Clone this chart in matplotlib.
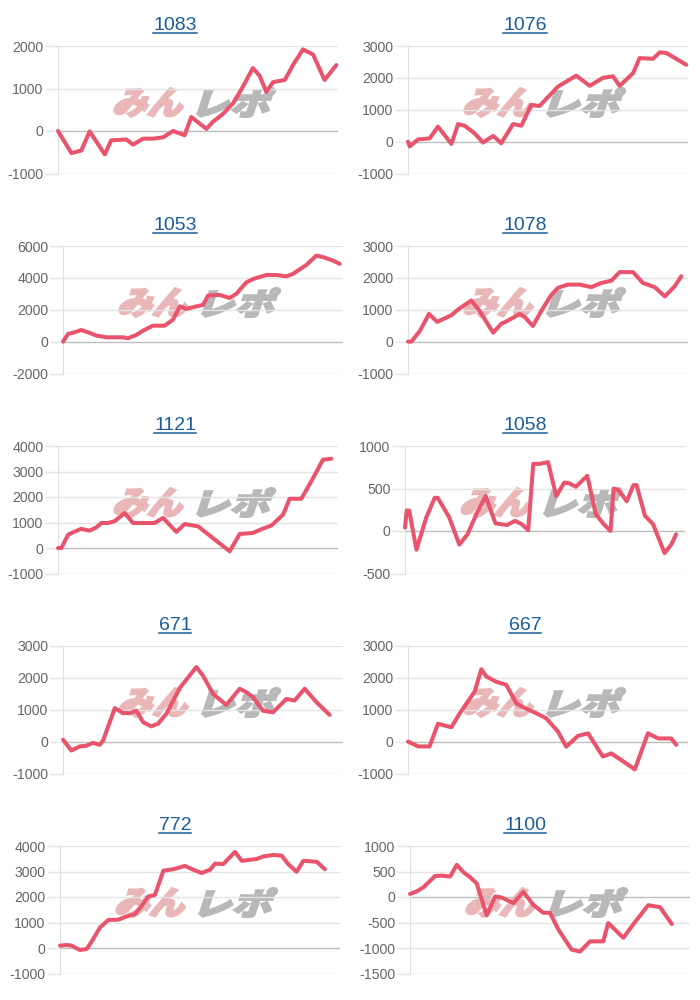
import matplotlib
matplotlib.use('Agg')
import matplotlib.pyplot as plt
from matplotlib.textpath import TextPath
from matplotlib.patches import PathPatch
from matplotlib.font_manager import FontProperties
from matplotlib.transforms import Affine2D, IdentityTransform
from matplotlib.lines import Line2D

plt.rcParams['font.family'] = ['Liberation Sans', 'DejaVu Sans']

titles = ['1083', '1076', '1053', '1078', '1121', '1058', '671', '667', '772', '1100']

# x = position in the period (0-100), y = balance
x_1083 = [0, 4.8, 8.3, 11.3, 16.7, 19.0, 24.4, 26.8, 30.4, 33.9, 37.5, 41.1, 45.2, 47.6, 53.0,
          55.4, 58.9, 62.5, 66.1, 69.6, 72.0, 74.4, 76.8, 81.0, 83.9, 87.5, 91.1, 95.2, 97.0, 99.4]
y_1083 = [0, -520, -460, -10, -550, -220, -200, -320, -180, -180, -150, 0, -100, 330, 50,
          220, 400, 650, 1050, 1480, 1300, 920, 1150, 1200, 1550, 1920, 1800, 1200, 1350, 1550]

x_1076 = [0, 0.6, 3.6, 7.7, 10.7, 15.5, 17.9, 20.2, 23.8, 26.8, 30.4, 33.3, 37.5, 40.5,
          44.0, 47.0, 53.6, 60.1, 64.9, 69.6, 73.2, 75.6, 80.4, 82.7, 87.5, 89.9, 92.3, 99.4]
y_1076 = [0, -150, 70, 100, 470, -70, 550, 500, 260, -30, 180, -50, 550, 500,
          1150, 1120, 1730, 2070, 1750, 2000, 2050, 1750, 2150, 2620, 2600, 2800, 2780, 2410]

x_1053 = [0, 1.8, 4.2, 6.5, 8.9, 11.9, 15.5, 21.4, 23.2, 26.2, 28.6, 32.1, 36.3, 39.3, 41.7, 44.0, 47.6,
          50.0, 51.8, 56.0, 59.5, 61.9, 65.5, 67.9, 72.6, 76.2, 79.8, 82.1, 86.9, 90.5, 92.9, 96.4, 98.8]
y_1053 = [0, 480, 590, 730, 590, 380, 270, 270, 210, 420, 690, 1000, 1000, 1380, 2210, 2050, 2210,
          2300, 2890, 2930, 2740, 3000, 3720, 3930, 4180, 4180, 4100, 4250, 4810, 5400, 5300, 5090, 4880]

x_1078 = [0, 1.2, 4.2, 7.5, 10.4, 13.1, 15.5, 17.9, 22.6, 25.6, 30.4, 33.3, 35.7, 39.9, 41.7, 44.6,
          47.6, 51.2, 53.6, 57.1, 61.3, 65.5, 69.0, 72.6, 75.6, 80.4, 83.9, 88.1, 91.7, 95.2, 97.6]
y_1078 = [0, 0, 330, 870, 620, 730, 830, 1010, 1290, 960, 280, 560, 660, 870, 770, 490,
          960, 1470, 1690, 1790, 1790, 1710, 1840, 1910, 2180, 2180, 1840, 1710, 1420, 1730, 2050]

x_1121 = [0, 1.2, 3.6, 6.0, 8.3, 11.3, 13.7, 15.5, 17.9, 20.2, 23.8, 26.8, 34.5, 37.5,
          42.3, 45.2, 50.0, 61.3, 64.9, 69.6, 73.2, 76.2, 80.4, 82.7, 86.9, 91.1, 94.6, 97.6]
y_1121 = [0, 0, 520, 650, 750, 680, 810, 980, 980, 1050, 1370, 980, 980, 1180,
          630, 940, 850, -130, 550, 590, 760, 880, 1310, 1930, 1930, 2740, 3460, 3500]

x_1058 = [0, 0.6, 1.5, 4.1, 7.6, 10.6, 11.7, 15.8, 19.4, 22.3, 25.8, 28.8, 32.3, 36.4, 39.3, 41.7, 44.0, 45.8, 48.1,
          51.1, 54.0, 56.9, 58.7, 61.0, 65.1, 68.1, 71.0, 73.4, 74.5, 76.3, 79.2, 81.6, 82.7, 85.7, 88.6, 92.7, 95.1, 96.8]
y_1058 = [40, 240, 240, -220, 160, 390, 390, 160, -160, -40, 220, 410, 90, 70, 120, 80, 10, 790, 790,
          810, 410, 570, 560, 520, 650, 200, 80, 0, 500, 480, 350, 540, 540, 180, 80, -260, -160, -40]

x_671 = [0, 3.0, 6.0, 8.3, 10.7, 13.1, 14.3, 18.5, 21.4, 23.8, 26.2, 28.6, 31.5, 33.9, 36.9,
         41.7, 47.6, 50.0, 53.6, 58.3, 63.1, 65.5, 67.9, 71.4, 75.0, 79.8, 82.7, 86.3, 90.5, 95.2]
y_671 = [60, -280, -150, -130, -40, -100, 30, 1050, 900, 890, 970, 610, 480, 560, 870,
         1680, 2340, 2070, 1500, 1150, 1660, 1550, 1390, 970, 920, 1340, 1290, 1660, 1240, 840]

x_667 = [0, 3.6, 7.7, 10.7, 15.5, 18.5, 23.8, 26.2, 28.0, 31.5, 35.1, 38.7, 41.1, 45.8,
         49.4, 53.6, 56.5, 60.7, 64.3, 69.6, 72.6, 76.2, 81.0, 85.7, 89.3, 94.0, 95.8]
y_667 = [0, -150, -150, 560, 450, 890, 1570, 2270, 2040, 1880, 1780, 1200, 1080, 890,
         730, 310, -160, 180, 260, -470, -370, -580, -870, 260, 100, 100, -100]

x_772 = [0, 2.4, 4.2, 7.1, 9.5, 11.3, 14.3, 17.3, 20.8, 23.8, 26.8, 29.2, 31.5, 33.9, 36.9, 40.5, 44.6,
         47.6, 50.6, 53.6, 55.4, 58.3, 62.5, 64.9, 70.2, 72.6, 76.2, 79.2, 81.5, 84.5, 86.9, 91.7, 94.6]
y_772 = [90, 120, 90, -80, -40, 250, 810, 1100, 1110, 1240, 1330, 1660, 2020, 2080, 3030, 3090, 3220,
         3070, 2940, 3070, 3310, 3290, 3770, 3420, 3490, 3590, 3650, 3620, 3290, 2990, 3420, 3380, 3090]

x_1100 = [0, 2.4, 4.8, 8.9, 11.3, 14.3, 16.7, 19.0, 21.4, 23.8, 27.4, 30.4, 32.7, 36.9, 40.5,
          44.0, 47.6, 50.0, 53.0, 57.7, 60.7, 64.3, 69.0, 70.8, 73.2, 76.2, 79.8, 85.1, 89.3, 93.5]
y_1100 = [60, 110, 190, 410, 420, 400, 630, 490, 390, 270, -360, 10, -10, -120, 100,
          -150, -310, -310, -640, -1030, -1070, -870, -870, -510, -640, -800, -530, -160, -200, -530]

yticks_list = [
    [-1000, 0, 1000, 2000],
    [-1000, 0, 1000, 2000, 3000],
    [-2000, 0, 2000, 4000, 6000],
    [-1000, 0, 1000, 2000, 3000],
    [-1000, 0, 1000, 2000, 3000, 4000],
    [-500, 0, 500, 1000],
    [-1000, 0, 1000, 2000, 3000],
    [-1000, 0, 1000, 2000, 3000],
    [-1000, 0, 1000, 2000, 3000, 4000],
    [-1500, -1000, -500, 0, 500, 1000],
]

xs = [x_1083, x_1076, x_1053, x_1078, x_1121, x_1058, x_671, x_667, x_772, x_1100]
ys = [y_1083, y_1076, y_1053, y_1078, y_1121, y_1058, y_671, y_667, y_772, y_1100]

W, H = 700, 1000
fig = plt.figure(figsize=(7, 10), dpi=100)

# plot area left edge in pixels (depends on tick label width)
ax_left = [58, 408, 63, 408, 58, 405, 63, 408, 60, 410]
ax_w, ax_h = 280, 127.5

line_color = '#e9536b'
grid_color = '#e4e4e4'
wm_font = FontProperties(family='Noto Sans CJK JP', weight='heavy')


def watermark(ax, text, bx, by, w, h, color):
    tp = TextPath((0, 0), text, size=40, prop=wm_font)
    ext = tp.get_extents()
    slant = 0.32
    sx = (w - h * slant) / ext.width
    sy = h / ext.height
    tr = (Affine2D().translate(-ext.x0, -ext.y0).scale(sx, sy)
          .skew(slant, 0).translate(bx, by))
    p = PathPatch(tr.transform_path(tp), facecolor=color, edgecolor=color, lw=1.5,
                  joinstyle='miter', transform=IdentityTransform(), zorder=0.5)
    ax.add_artist(p)


titles_txt = []
for i in range(10):
    row, col = i // 2, i % 2
    L = ax_left[i]
    T = 46 + 200 * row
    ax = fig.add_axes([L / W, 1 - (T + ax_h) / H, ax_w / W, ax_h / H])
    ax.set_facecolor('none')
    ticks = yticks_list[i]
    ax.set_ylim(ticks[0], ticks[-1])
    ax.set_xlim(0, 100)
    ax.set_yticks(ticks)
    ax.set_yticklabels([str(t) for t in ticks])
    ax.set_xticks([])
    for s in ['top', 'right', 'bottom']:
        ax.spines[s].set_visible(False)
    ax.spines['left'].set_color('#e0e0e0')
    ax.tick_params(axis='y', length=9.5, width=1, color=grid_color, pad=1,
                   labelsize=10.2, labelcolor='#666666')
    for t in ticks:
        c = '#bdbdbd' if t == 0 else grid_color
        ax.axhline(t, color=c, lw=1, zorder=1)

    watermark(ax, 'みん', L + 54, H - (T + 71), 77, 29, '#eab7b8')
    watermark(ax, 'レポ', L + 138, H - (T + 71), 80, 29, '#b8b8b8')

    ax.plot(xs[i], ys[i], color=line_color, lw=2.9, solid_joinstyle='round',
            solid_capstyle='round', zorder=3, clip_on=False)

    cx = 175 + 350 * col
    t = fig.text(cx / W, 1 - (29.5 + 200 * row) / H, titles[i], ha='center', va='baseline',
                 fontsize=14, color='#1c5d99')
    titles_txt.append((t, row))

r = fig.canvas.get_renderer()
for t, row in titles_txt:
    bb = t.get_window_extent(renderer=r)
    y = 1 - (32.5 + 200 * row) / H
    fig.add_artist(Line2D([bb.x0 / W, bb.x1 / W], [y, y], transform=fig.transFigure,
                          color='#1c5d99', lw=1.1))

fig.savefig('out.png', dpi=100)
